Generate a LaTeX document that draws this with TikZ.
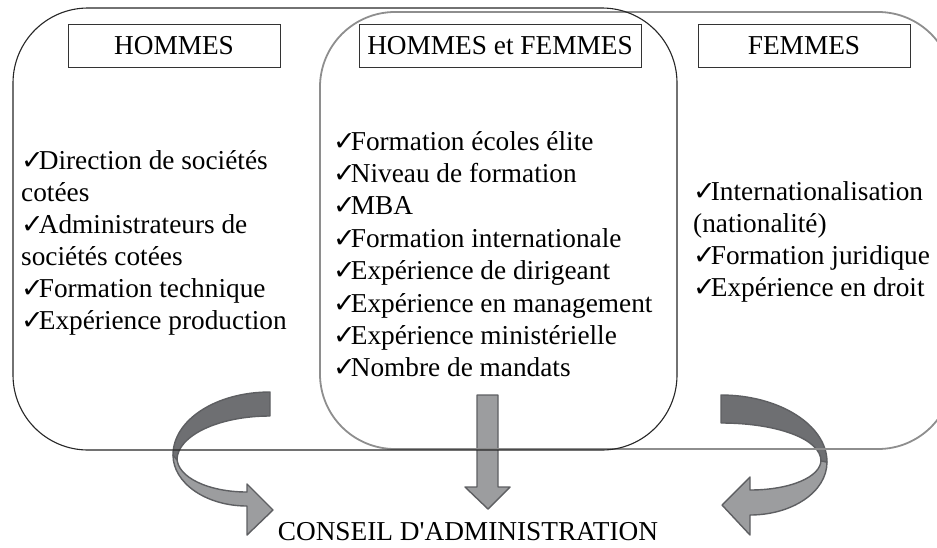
\documentclass[tikz,border=0pt]{standalone}
\usepackage{fontspec}
\setmainfont{Liberation Serif}
\newfontfamily\dejavu{DejaVu Sans}
\newcommand\ck{{\dejavu\fontsize{27}{27}\selectfont ✓}\kern-5pt}
\definecolor{bandDark}{HTML}{6E6F72}
\definecolor{bandLight}{HTML}{9C9D9F}
\definecolor{bandLine}{HTML}{5E5F62}
\definecolor{grayBox}{HTML}{8E8E8E}
\begin{document}
\begin{tikzpicture}[x=1pt,y=-1pt,
  txt/.style={anchor=base west,inner sep=0pt,font=\fontsize{27.3}{32}\selectfont},
  head/.style={draw=black!80,line width=0.9pt,minimum width=#1,minimum height=43pt,inner sep=0pt,font=\fontsize{27.3}{32}\selectfont},
  band/.style={draw=bandLine,line width=1.4pt,line join=round},
  bigbox/.style={rounded corners=75pt,inner sep=0pt}]
\useasboundingbox (0,0) rectangle (937,547);
\begin{scope}
\clip (0,0) rectangle (937,547);
% ---- curved arrows (drawn below the frames)
% left
\fill[band,fill=bandLight] (173,455) .. controls (173,483) and (206,506) .. (247,506)
   -- (247,535) -- (273,510) -- (247,484) -- (247,492)
   .. controls (208,492) and (177,477) .. (177,458) -- cycle;
\fill[band,fill=bandDark] (270,392) .. controls (216,392) and (173,420) .. (173,455)
   -- (177,460) .. controls (177,436) and (218,416) .. (270,416) -- cycle;
% right
\fill[band,fill=bandLight] (827,462) .. controls (827,492) and (792,515) .. (750,515)
   -- (750,535) -- (722,505) -- (750,477) -- (750,490)
   .. controls (790,490) and (821,477) .. (821,460) -- cycle;
\fill[band,fill=bandDark] (721,395) .. controls (779,395) and (827,425) .. (827,462)
   -- (821,461) .. controls (821,439) and (777,423) .. (721,423) -- cycle;
% middle
\fill[band,fill=bandLight] (477,395) -- (498,395) -- (498,487) -- (510,487) -- (488,509)
   -- (465,487) -- (477,487) -- cycle;
% ---- frames
\node[bigbox,draw=grayBox,line width=1.8pt,minimum width=633pt,minimum height=437pt] (both) at (636.5,230.5) {};
\node[bigbox,draw=black!85,line width=1.1pt,minimum width=664pt,minimum height=442pt] (men) at (345,229) {};
\end{scope}
% ---- headers
\node[head=212pt] (hH) at (174,45.5) {HOMMES};
\node[head=282pt] (hHF) at (500,45.5) {HOMMES et FEMMES};
\node[head=212pt] (hF) at (804,45.5) {FEMMES};
% ---- left column
\node[txt] (l1) at (21,169) {\ck Direction de sociétés};
\node[txt] (l2) at (21,201) {cotées};
\node[txt] (l3) at (21,233) {\ck Administrateurs de};
\node[txt] (l4) at (21,265) {sociétés cotées};
\node[txt] (l5) at (21,297) {\ck Formation technique};
\node[txt] (l6) at (21,329) {\ck Expérience production};
% ---- middle column
\node[txt] (m1) at (333,150) {\ck Formation écoles élite};
\node[txt] (m2) at (333,182.4) {\ck Niveau de formation};
\node[txt] (m3) at (333,214.8) {\ck MBA};
\node[txt] (m4) at (333,247.2) {\ck Formation internationale};
\node[txt] (m5) at (333,279.6) {\ck Expérience de dirigeant};
\node[txt] (m6) at (333,312) {\ck Expérience en management};
\node[txt] (m7) at (333,344.4) {\ck Expérience ministérielle};
\node[txt] (m8) at (333,376.8) {\ck Nombre de mandats};
% ---- right column
\node[txt] (r1) at (693,200) {\ck Internationalisation};
\node[txt] (r2) at (693,232) {(nationalité)};
\node[txt] (r3) at (693,264) {\ck Formation juridique};
\node[txt] (r4) at (693,296) {\ck Expérience en droit};
% ---- target
\node[anchor=base,inner sep=0pt,font=\fontsize{27.3}{32}\selectfont] (ca) at (468,540) {CONSEIL D\textquotesingle ADMINISTRATION};
\end{tikzpicture}
\end{document}
